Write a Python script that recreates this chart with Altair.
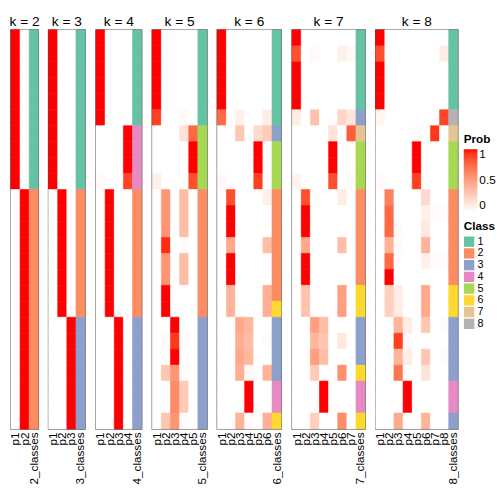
import altair as alt
import pandas as pd

K_VALUES = [2, 3, 4, 5, 6, 7, 8]
CLASS_LABELS = ["1", "2", "3", "4", "5", "6", "7", "8"]
CLASS_COLORS = ["#66C2A5", "#FC8D62", "#8DA0CB", "#E78AC3", "#A6D854", "#FFD92F", "#E5C494", "#B3B3B3"]

# ---- k = 2 ----
class_k2 = [1, 1, 1, 1, 1, 1, 1, 1, 1, 1, 2, 2, 2, 2, 2, 2, 2, 2, 2, 2, 2, 2, 2, 2, 2]
prob_k2 = [
    [1, 0], [1, 0], [1, 0], [1, 0], [1, 0], [1, 0], [1, 0], [1, 0], [1, 0], [1, 0],
    [0, 1], [0, 1], [0, 1], [0, 1], [0, 1], [0, 1], [0, 1], [0, 1], [0, 1], [0, 1],
    [0, 1], [0, 1], [0, 1], [0, 1], [0, 1],
]
# ---- k = 3 ----
class_k3 = [1, 1, 1, 1, 1, 1, 1, 1, 1, 1, 2, 2, 2, 2, 2, 2, 2, 2, 3, 3, 3, 3, 3, 3, 3]
prob_k3 = [
    [1, 0, 0], [1, 0, 0], [1, 0, 0], [1, 0, 0], [1, 0, 0], [1, 0, 0], [1, 0, 0], [1, 0, 0],
    [1, 0, 0], [1, 0, 0],
    [0, 1, 0], [0, 1, 0], [0, 1, 0], [0, 1, 0], [0, 1, 0], [0, 1, 0], [0, 1, 0], [0, 1, 0],
    [0, 0, 1], [0, 0, 1], [0, 0, 1], [0, 0, 1], [0, 0, 1], [0, 0, 1], [0, 0, 1],
]
# ---- k = 4 ----
class_k4 = [1, 1, 1, 1, 1, 1, 4, 4, 4, 4, 2, 2, 2, 2, 2, 2, 2, 2, 3, 3, 3, 3, 3, 3, 3]
prob_k4 = [
    [1, 0, 0, 0], [1, 0, 0, 0], [1, 0, 0, 0], [1, 0, 0, 0], [1, 0, 0, 0], [1, 0, 0, 0],
    [0, 0, 0, 1], [0, 0, 0, 1], [0, 0, 0, 1], [0.03, 0, 0, 0.88],
    [0, 1, 0, 0], [0, 1, 0, 0], [0, 1, 0, 0], [0, 1, 0, 0], [0, 1, 0, 0], [0, 1, 0, 0],
    [0, 1, 0, 0], [0, 1, 0, 0],
    [0, 0, 1, 0], [0, 0, 1, 0], [0, 0, 1, 0], [0, 0, 1, 0], [0, 0, 1, 0], [0, 0, 1, 0],
    [0, 0, 1, 0],
]
# ---- k = 5 ----
class_k5 = [1, 1, 1, 1, 1, 1, 5, 5, 5, 5, 2, 2, 2, 2, 2, 2, 2, 2, 3, 3, 3, 3, 3, 3, 3]
prob_k5 = [
    [1, 0, 0, 0, 0], [1, 0, 0, 0, 0], [1, 0, 0, 0, 0], [1, 0, 0, 0, 0], [1, 0, 0, 0, 0],
    [0.9, 0, 0, 0.03, 0],
    [0, 0, 0, 0.15, 0.75], [0, 0, 0, 0, 1], [0, 0, 0, 0, 1], [0.08, 0, 0, 0, 0.85],
    [0, 0.55, 0, 0.35, 0], [0, 0.55, 0, 0.35, 0], [0, 0.55, 0, 0.35, 0],
    [0, 0.95, 0, 0.02, 0], [0, 0.55, 0, 0.35, 0], [0, 0.55, 0, 0.35, 0],
    [0, 1, 0, 0, 0], [0, 1, 0, 0, 0],
    [0, 0, 1, 0, 0], [0, 0.02, 0.92, 0.02, 0], [0, 0, 1, 0, 0], [0, 0.3, 0.55, 0.02, 0],
    [0, 0, 0.6, 0.28, 0], [0, 0, 0.6, 0.28, 0], [0, 0.3, 0.55, 0.02, 0],
]
# ---- k = 6 ----
class_k6 = [1, 1, 1, 1, 1, 1, 3, 5, 5, 5, 2, 2, 2, 2, 2, 2, 2, 6, 3, 3, 3, 3, 4, 4, 6]
prob_k6 = [
    [1, 0, 0, 0, 0, 0], [1, 0, 0, 0, 0, 0], [1, 0, 0, 0, 0, 0], [1, 0, 0, 0, 0, 0],
    [1, 0, 0, 0, 0, 0], [0.75, 0, 0.08, 0, 0, 0.1],
    [0, 0, 0.3, 0, 0.2, 0.28], [0, 0, 0, 0, 1, 0], [0, 0, 0, 0, 1, 0], [0.03, 0, 0, 0, 0.9, 0],
    [0, 0.85, 0, 0, 0, 0.08], [0, 1, 0, 0, 0, 0], [0, 1, 0, 0, 0, 0], [0, 0.45, 0, 0, 0, 0.35],
    [0, 1, 0, 0, 0, 0], [0, 1, 0, 0, 0, 0], [0, 0.4, 0, 0, 0, 0.42], [0, 0.4, 0, 0, 0, 0.42],
    [0, 0, 0.45, 0.38, 0, 0], [0, 0, 0.42, 0.35, 0, 0.02], [0, 0, 0.45, 0.38, 0, 0],
    [0, 0, 0.42, 0.03, 0, 0.4], [0, 0, 0, 1, 0, 0], [0, 0, 0, 1, 0, 0],
    [0, 0, 0.4, 0.02, 0, 0.42],
]
# ---- k = 7 ----
class_k7 = [1, 1, 1, 1, 1, 3, 7, 5, 5, 5, 2, 2, 2, 2, 2, 2, 6, 6, 3, 3, 3, 6, 4, 4, 6]
prob_k7 = [
    [1, 0, 0, 0, 0, 0, 0], [0.85, 0, 0.03, 0, 0, 0.08, 0.04], [1, 0, 0, 0, 0, 0, 0],
    [1, 0, 0, 0, 0, 0, 0], [1, 0, 0, 0, 0, 0, 0], [0.1, 0, 0.32, 0, 0, 0.22, 0.14],
    [0, 0, 0, 0, 0.15, 0, 0.8], [0, 0, 0, 0, 1, 0, 0], [0, 0, 0, 0, 1, 0, 0],
    [0.06, 0, 0, 0, 0.85, 0, 0.02],
    [0, 0.85, 0, 0, 0, 0.1, 0], [0, 1, 0, 0, 0, 0, 0], [0, 1, 0, 0, 0, 0, 0],
    [0, 0.45, 0, 0, 0, 0.35, 0], [0, 1, 0, 0, 0, 0, 0], [0, 1, 0, 0, 0, 0, 0],
    [0, 0.32, 0, 0, 0, 0.5, 0], [0, 0.32, 0, 0, 0, 0.5, 0],
    [0, 0, 0.5, 0.35, 0, 0, 0], [0, 0, 0.38, 0.3, 0, 0.13, 0], [0, 0, 0.5, 0.35, 0, 0, 0],
    [0, 0, 0.28, 0, 0, 0.58, 0], [0, 0, 0, 1, 0, 0, 0], [0, 0, 0, 1, 0, 0, 0],
    [0, 0, 0.25, 0, 0, 0.6, 0],
]
# ---- k = 8 ----
class_k8 = [1, 1, 1, 1, 1, 8, 7, 5, 5, 5, 2, 2, 2, 2, 2, 2, 6, 6, 3, 3, 3, 3, 4, 4, 3]
prob_k8 = [
    [1, 0, 0, 0, 0, 0, 0, 0], [0.85, 0, 0, 0, 0, 0, 0, 0.1], [1, 0, 0, 0, 0, 0, 0, 0],
    [1, 0, 0, 0, 0, 0, 0, 0], [1, 0, 0, 0, 0, 0, 0, 0], [0.05, 0, 0, 0, 0, 0, 0, 0.88],
    [0, 0, 0, 0, 0.02, 0, 0.92, 0], [0, 0, 0, 0, 1, 0, 0, 0], [0, 0, 0, 0, 1, 0, 0, 0],
    [0.03, 0, 0, 0, 0.9, 0, 0, 0],
    [0, 0.65, 0, 0, 0, 0.2, 0, 0], [0, 0.75, 0, 0, 0, 0.08, 0.02, 0.02],
    [0, 0.75, 0.02, 0, 0, 0.12, 0, 0], [0, 0.4, 0.02, 0, 0, 0.4, 0, 0],
    [0, 0.75, 0, 0, 0, 0.08, 0.02, 0.02], [0, 1, 0, 0, 0, 0, 0, 0],
    [0, 0.25, 0.1, 0, 0, 0.45, 0, 0], [0, 0.25, 0.1, 0, 0, 0.45, 0, 0],
    [0, 0, 0.4, 0.1, 0, 0.3, 0, 0.02], [0, 0, 0.9, 0.02, 0, 0, 0, 0],
    [0, 0, 0.4, 0.1, 0, 0.3, 0, 0.02], [0, 0, 0.7, 0, 0, 0.15, 0, 0],
    [0, 0, 0, 1, 0, 0, 0, 0], [0, 0, 0, 1, 0, 0, 0, 0], [0, 0, 0.45, 0, 0, 0.4, 0, 0],
]

PROBS = [prob_k2, prob_k3, prob_k4, prob_k5, prob_k6, prob_k7, prob_k8]
CLASSES = [class_k2, class_k3, class_k4, class_k5, class_k6, class_k7, class_k8]

STEP = 9.33
HEIGHT = 408
N_ROWS = len(class_k2)
FONT = "Liberation Sans"

prob_scale = alt.Scale(domain=[0, 1], range=["#FFFFFF", "#FF0000"], interpolate="lab")
class_scale = alt.Scale(domain=CLASS_LABELS, range=CLASS_COLORS)

prob_legend = alt.Legend(
    title="Prob", orient="none", legendX=463, legendY=107, direction="vertical",
    values=[0, 0.5, 1], format=".1~f", gradientLength=64, gradientThickness=14,
    gradientStrokeWidth=0, labelFontSize=12, titleFontSize=12, titleFontWeight="bold",
    titlePadding=3, labelFont=FONT, titleFont=FONT, labelColor="#000000", titleColor="#000000",
    labelOffset=2,
)
class_legend = alt.Legend(
    title="Class", orient="none", legendX=463, legendY=196, direction="vertical",
    symbolType="square", symbolSize=112, symbolStrokeWidth=0, rowPadding=0,
    labelFontSize=11, titleFontSize=12, titleFontWeight="bold", titlePadding=3,
    labelFont=FONT, titleFont=FONT, labelColor="#000000", titleColor="#000000",
    labelOffset=3,
)

panels = []
for k, probs, classes in zip(K_VALUES, PROBS, CLASSES):
    cols = [f"p{i}" for i in range(1, k + 1)]
    cls_name = f"{k}_classes"
    prob_recs = []
    for r, row in enumerate(probs):
        for j, v in enumerate(row):
            prob_recs.append({"row": r, "col": cols[j], "prob": v})
    cls_recs = [{"row": r, "col": cls_name, "cls": str(c)} for r, c in enumerate(classes)]

    xenc = alt.X(
        "col:N",
        scale=alt.Scale(domain=cols + [cls_name], paddingInner=0, paddingOuter=0),
        axis=alt.Axis(title=None, labelAngle=270, ticks=False, domain=False,
                      labelPadding=3, labelFontSize=12, labelFont=FONT,
                      labelOverlap=False, labelColor="#000000"),
    )
    yenc = alt.Y("row:O", scale=alt.Scale(domain=list(range(N_ROWS)), paddingInner=0, paddingOuter=0),
                 axis=None)

    heat = alt.Chart(pd.DataFrame(prob_recs)).mark_rect(strokeWidth=0.6).encode(
        x=xenc, y=yenc,
        color=alt.Color("prob:Q", scale=prob_scale, legend=prob_legend),
        stroke=alt.Stroke("prob:Q", scale=prob_scale, legend=None),
    )
    cls_layer = alt.Chart(pd.DataFrame(cls_recs)).mark_rect(strokeWidth=0.6).encode(
        x=xenc, y=yenc,
        fill=alt.Fill("cls:N", scale=class_scale, legend=class_legend),
        stroke=alt.Stroke("cls:N", scale=class_scale, legend=None),
    )
    panel = alt.layer(heat, cls_layer).resolve_scale(stroke="independent").properties(
        width=STEP * (k + 1), height=HEIGHT,
        title=alt.TitleParams(f"k = {k}", fontSize=14, font=FONT, fontWeight="normal",
                              offset=1, color="#000000"),
    )
    panels.append(panel)

chart = alt.hconcat(*panels, spacing=10.5, bounds="flush").resolve_scale(
    x="independent", color="shared", fill="shared"
).properties(
    padding={"left": 0, "top": 0, "right": 0, "bottom": 0}
).configure_view(
    stroke="#555555", strokeWidth=1.5
)

chart.save("out.html", embed_options={"renderer": "svg", "actions": False})
